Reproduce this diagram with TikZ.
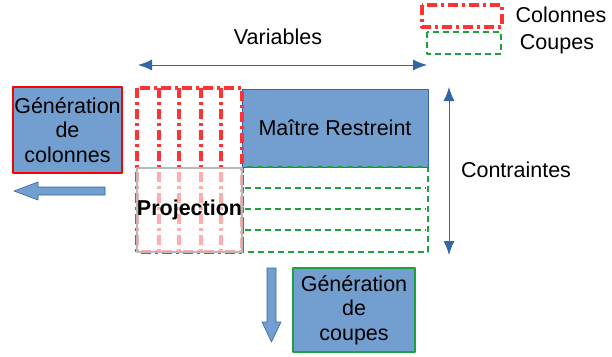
\documentclass[tikz,border=0pt]{standalone}
\usepackage{fontspec}
\setmainfont{Liberation Sans}
\usetikzlibrary{arrows.meta}
\definecolor{bleu}{HTML}{729FCF}
\definecolor{bleufonce}{HTML}{3465A4}
\definecolor{rouge}{HTML}{FF3333}
\definecolor{vert}{HTML}{1EA03C}
\tikzset{
  colonne/.style={draw=rouge,line width=3.4pt,dash pattern=on 10pt off 4pt on 3pt off 4pt},
  coupe/.style={draw=vert,line width=2.6pt,dash pattern=on 6pt off 4pt},
  bloc/.style={fill=bleu,draw=bleufonce,line width=0.6pt},
  boite/.style={fill=bleu,line width=2pt,align=center,inner sep=0pt}
}
\begin{document}
\begin{tikzpicture}[x=1pt,y=-1pt,font=\fontsize{21.5}{24.5}\selectfont,line join=round,>={Latex[length=14pt,width=11pt]}]
	\useasboundingbox (0,0) rectangle (612,356);
	\coordinate (V1) at (138,65);
	\coordinate (V2) at (427,65);
	\coordinate (C1) at (449,87);
	\coordinate (C2) at (449,255);
	\node[fill=bleu,draw=bleufonce,line width=0.6pt,minimum width=186,minimum height=78,inner sep=0pt] (maitre) at (335,128) {Maître Restreint};
	\draw[colonne] (137,88) rectangle (242,252);
	\foreach \x in {159,179,201,221}
	\draw[colonne] (\x,88)--(\x,252);
	\draw[coupe] (243,167) rectangle (428,252);
	\foreach \y in {188,209,230}
	\draw[coupe] (245,\y)--(426,\y);
	\node[draw=gray!55,line width=2.6pt,fill=white,fill opacity=0.6,text opacity=1,minimum width=105,minimum height=84,inner sep=0pt,font=\fontsize{21.5}{24.5}\selectfont\bfseries] (proj) at (189.5,210) {Projection};
	\draw[bleufonce,line width=1pt,<->] (V1)--(V2);
	\draw[bleufonce,line width=1pt,<->] (C1)--(C2);
	\node (var) at (278,37) {Variables};
	\node (contr) at (516,170) {Contraintes};
	\node[boite,draw=red,minimum width=109,minimum height=86] (gencol) at (67.5,130) {Génération\\de\\colonnes};
	\node[boite,draw=vert,minimum width=122,minimum height=84] (gencoup) at (354,310) {Génération\\de\\coupes};
	\draw[bloc] (105,187)--(38,187)--(38,182)--(14,191)--(38,200)--(38,195)--(105,195)--cycle;
	\draw[bloc] (267,268)--(267,322)--(262,322)--(271.5,342)--(281,322)--(276,322)--(276,268)--cycle;
	\draw[colonne] (422,5) rectangle (502,27);
	\draw[coupe] (427,32) rectangle (501,54);
	\node (lcol) at (561,15) {Colonnes};
	\node (lcoup) at (557,44) {Coupes};
\end{tikzpicture}
\end{document}
